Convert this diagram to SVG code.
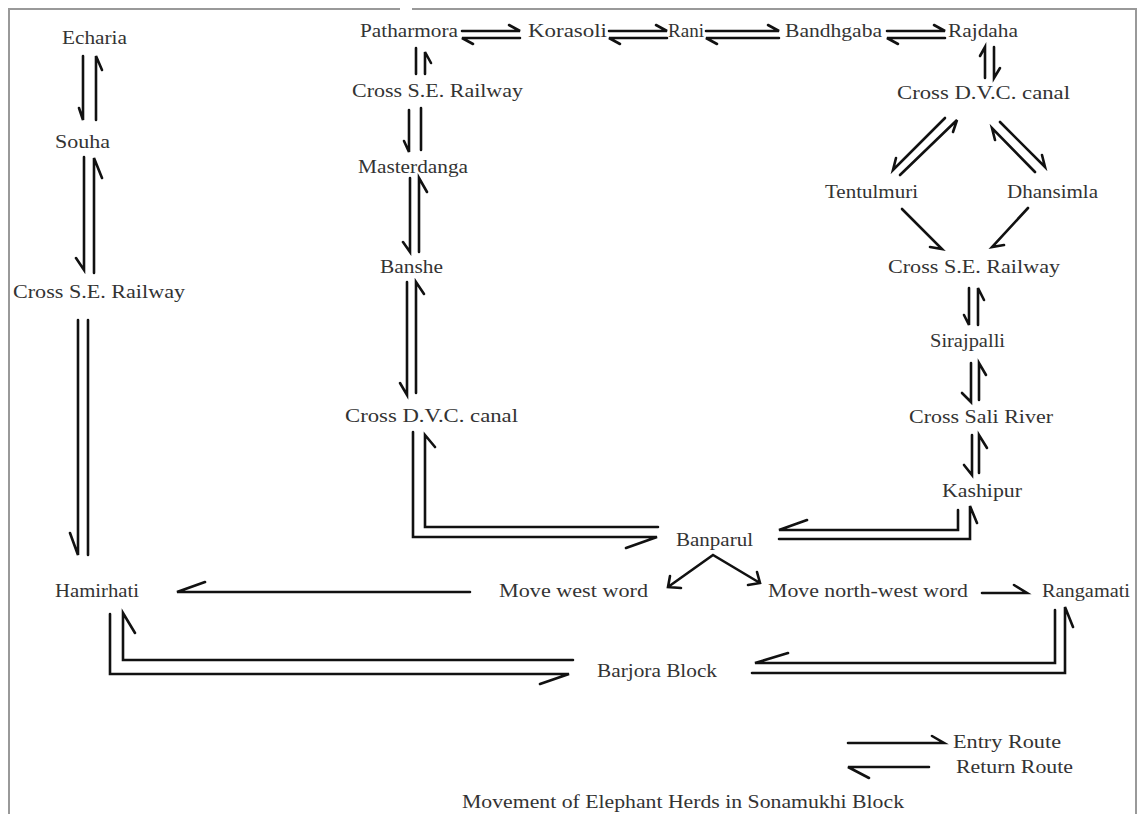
<svg xmlns="http://www.w3.org/2000/svg" width="1139" height="814" viewBox="0 0 1139 814">
<style>
  text { font-family: "Liberation Serif", "Times New Roman", serif; font-size: 18.5px; fill: #333; }
  .c { fill: none; stroke: #111; stroke-width: 2.6; stroke-linecap: round; stroke-linejoin: miter; }
  .frame { fill: none; stroke: #999; stroke-width: 2; }
</style>
<rect width="1139" height="814" fill="#fff"/>
<path class="frame" d="M9 820 V9 H400 M412 9 H1136 V820"/>

<g id="connectors">
  <!-- top row harpoon pairs -->
  <path class="c" d="M462 31 H520 L509 25 M520 38 H462 L473 44"/>
  <path class="c" d="M609 31 H667 L656 25 M667 38 H609 L620 44"/>
  <path class="c" d="M706 31 H779 L768 25 M779 38 H706 L717 44"/>
  <path class="c" d="M887 31 H945 L934 25 M945 38 H887 L898 44"/>
  <!-- Patharmora column -->
  <path class="c" d="M416 48 V74 M425 74 V52 L431 63"/>
  <path class="c" d="M409 110 V152 L404 141 M421 150 V108"/>
  <path class="c" d="M410 178 V252 L403 242 M419 252 V178 L427 192"/>
  <path class="c" d="M407 282 V395 L400 383 M416 393 V282 L424 294"/>
  <path class="c" d="M413 432 V537 H657 L626 548 M658 527 H425 V435 L435 447"/>
  <!-- left column -->
  <path class="c" d="M83 56 V120 L79 108 M96 120 V56 L102 70"/>
  <path class="c" d="M84 157 V270 L76 258 M94 273 V158 L102 178"/>
  <path class="c" d="M78 320 V555 L70 533 M88 555 V320"/>
  <path class="c" d="M110 614 V674 H569 L540 684 M573 660 H123 V613 L135 633"/>
  <path class="c" d="M470 592 H177 L205 582"/>
  <!-- Banparul split -->
  <path class="c" d="M668 587 L713 555 L760 583 M670 576 L668 587 L681 588 M757 572 L760 583 L748 585"/>
  <!-- Banparul <-> Kashipur -->
  <path class="c" d="M779 539 H970 V506 L977 523 M958 510 V530 H779 L807 520"/>
  <!-- Move north-west word -> Rangamati -->
  <path class="c" d="M982 593 H1027 L1014 585"/>
  <!-- Barjora <-> Rangamati -->
  <path class="c" d="M752 673 H1065 V607 L1073 627 M1055 610 V663 H755 L788 653"/>
  <!-- right column -->
  <path class="c" d="M985 78 V47 L980 56 M994 47 V78 L1000 68"/>
  <path class="c" d="M945 118 L893 170 L896 158 M900 175 L957 120 L953 132"/>
  <path class="c" d="M1000 122 L1045 167 L1042 155 M1035 172 L992 128 L995 140"/>
  <path class="c" d="M902 209 L942 249 L930 247"/>
  <path class="c" d="M1028 208 L992 247 L1004 245"/>
  <path class="c" d="M969 288 V325 L964 315 M978 325 V288 L984 300"/>
  <path class="c" d="M971 363 V402 L962 393 M979 400 V363 L986 375"/>
  <path class="c" d="M972 435 V475 L964 465 M979 473 V435 L987 448"/>
  <!-- legend -->
  <path class="c" d="M848 743 H944 L932 736 M929 767 H848 L869 778"/>
</g>

<g id="n-echaria"><text x="62" y="44" textLength="65" lengthAdjust="spacingAndGlyphs">Echaria</text></g>
<g id="n-souha"><text x="55" y="148" textLength="55" lengthAdjust="spacingAndGlyphs">Souha</text></g>
<g id="n-cross-se-left"><text x="13" y="298" textLength="172" lengthAdjust="spacingAndGlyphs">Cross S.E. Railway</text></g>
<g id="n-hamirhati"><text x="55" y="597" textLength="84" lengthAdjust="spacingAndGlyphs">Hamirhati</text></g>
<g id="n-patharmora"><text x="360" y="37" textLength="98" lengthAdjust="spacingAndGlyphs">Patharmora</text></g>
<g id="n-korasoli"><text x="528" y="37" textLength="79" lengthAdjust="spacingAndGlyphs">Korasoli</text></g>
<g id="n-rani"><text x="668" y="37" textLength="36" lengthAdjust="spacingAndGlyphs">Rani</text></g>
<g id="n-bandhgaba"><text x="785" y="37" textLength="97" lengthAdjust="spacingAndGlyphs">Bandhgaba</text></g>
<g id="n-rajdaha"><text x="948" y="37" textLength="70" lengthAdjust="spacingAndGlyphs">Rajdaha</text></g>
<g id="n-cross-se-mid"><text x="352" y="97" textLength="171" lengthAdjust="spacingAndGlyphs">Cross S.E. Railway</text></g>
<g id="n-masterdanga"><text x="358" y="173" textLength="110" lengthAdjust="spacingAndGlyphs">Masterdanga</text></g>
<g id="n-banshe"><text x="380" y="273" textLength="63" lengthAdjust="spacingAndGlyphs">Banshe</text></g>
<g id="n-cross-dvc-mid"><text x="345" y="422" textLength="173" lengthAdjust="spacingAndGlyphs">Cross D.V.C. canal</text></g>
<g id="n-cross-dvc-right"><text x="897" y="99" textLength="173" lengthAdjust="spacingAndGlyphs">Cross D.V.C. canal</text></g>
<g id="n-tentulmuri"><text x="825" y="198" textLength="93" lengthAdjust="spacingAndGlyphs">Tentulmuri</text></g>
<g id="n-dhansimla"><text x="1007" y="198" textLength="91" lengthAdjust="spacingAndGlyphs">Dhansimla</text></g>
<g id="n-cross-se-right"><text x="888" y="273" textLength="172" lengthAdjust="spacingAndGlyphs">Cross S.E. Railway</text></g>
<g id="n-sirajpalli"><text x="930" y="347" textLength="75" lengthAdjust="spacingAndGlyphs">Sirajpalli</text></g>
<g id="n-cross-sali"><text x="909" y="423" textLength="144" lengthAdjust="spacingAndGlyphs">Cross Sali River</text></g>
<g id="n-kashipur"><text x="942" y="497" textLength="80" lengthAdjust="spacingAndGlyphs">Kashipur</text></g>
<g id="n-banparul"><text x="676" y="546" textLength="77" lengthAdjust="spacingAndGlyphs">Banparul</text></g>
<g id="n-move-west"><text x="499" y="597" textLength="149" lengthAdjust="spacingAndGlyphs">Move west word</text></g>
<g id="n-move-nw"><text x="768" y="597" textLength="200" lengthAdjust="spacingAndGlyphs">Move north-west word</text></g>
<g id="n-rangamati"><text x="1042" y="597" textLength="88" lengthAdjust="spacingAndGlyphs">Rangamati</text></g>
<g id="n-barjora"><text x="597" y="677" textLength="120" lengthAdjust="spacingAndGlyphs">Barjora Block</text></g>
<g id="legend">
  <text x="953" y="748" textLength="108" lengthAdjust="spacingAndGlyphs">Entry Route</text>
  <text x="956" y="773" textLength="117" lengthAdjust="spacingAndGlyphs">Return Route</text>
</g>
<g id="title"><text x="462" y="808" textLength="442" lengthAdjust="spacingAndGlyphs">Movement of Elephant Herds in Sonamukhi Block</text></g>
</svg>
